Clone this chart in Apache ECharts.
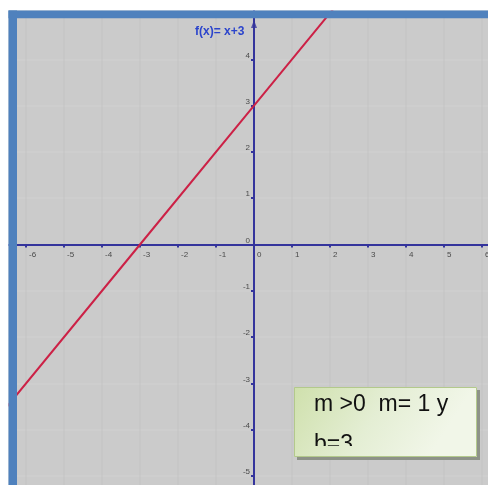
<!DOCTYPE html>
<html>
<head>
<meta charset="utf-8">
<script src="https://cdn.jsdelivr.net/npm/echarts@6/dist/echarts.min.js"></script>
<style>
  html, body { margin: 0; padding: 0; background: #ffffff; }
  #chart { width: 488px; height: 485px; }
</style>
</head>
<body>
<div id="chart"></div>
<script>
// Axis extents (the visible window is cut out of these by the frame)
const xExtent = [-7, 7];
const yExtent = [-6, 6];
// Tick labels that are printed on each axis
const xLabelValues = [-6, -5, -4, -3, -2, -1, 0, 1, 2, 3, 4, 5, 6];
const yLabelValues = [-5, -4, -3, -2, -1, 0, 1, 2, 3, 4];
// f(x) = x + 3  (slope 1, intercept 3)
const lineX = [-7, -3, 0, 7];
const lineY = [-4, 0, 3, 10];
// Arrow head at the top of the vertical axis
const arrowX = [0];
const arrowY = [4.76];
// Texts
const functionLabel = 'f(x)= x+3';
const noteLines = ['m >0  m= 1 y', 'b=3'];

const AXIS_COLOR = '#34349c';
const FRAME_BLUE = '#4f81bd';
const PLOT_GRAY = '#cbcbcb';

// Plot box (extends past the frame on every side)
const GRID = { left: -12, right: -32, top: -33.3, bottom: -37.3 };
const CHART_W = 488, CHART_H = 485;
const gridW = CHART_W - GRID.left - GRID.right;
const gridH = CHART_H - GRID.top - GRID.bottom;
// Shift each axis from the grid edge onto the other axis' zero
const yAxisShift = -gridW * (0 - xExtent[0]) / (xExtent[1] - xExtent[0]);
const xAxisShift = -gridH * (0 - yExtent[0]) / (yExtent[1] - yExtent[0]);

const chart = echarts.init(document.getElementById('chart'), null, { renderer: 'canvas' });

const boxFill = {
  type: 'linear', global: true,
  x: 294, y: 387, x2: 420, y2: 470,
  colorStops: [
    { offset: 0, color: '#cfe0ac' },
    { offset: 0.55, color: '#e4eed4' },
    { offset: 1, color: '#f1f6e8' }
  ]
};

function pickLabel(list) {
  return function (v) {
    const r = Math.round(Number(v));
    return list.indexOf(r) >= 0 ? String(r) : '';
  };
}

chart.setOption({
  animation: false,
  backgroundColor: '#ffffff',
  grid: {
    left: GRID.left, right: GRID.right, top: GRID.top, bottom: GRID.bottom,
    show: true, backgroundColor: PLOT_GRAY, borderWidth: 0,
    containLabel: false, outerBoundsMode: 'none'
  },
  xAxis: {
    type: 'value', min: xExtent[0], max: xExtent[1], interval: 1,
    position: 'bottom', offset: xAxisShift,
    axisLine: { onZero: false, lineStyle: { color: AXIS_COLOR, width: 2 } },
    axisTick: { show: true, length: 3, lineStyle: { color: AXIS_COLOR, width: 2 } },
    axisLabel: {
      show: true, margin: 6, align: 'left', padding: [0, 0, 0, 3],
      fontSize: 8, fontFamily: 'Liberation Sans, Arial, sans-serif', color: '#4a4a4a',
      formatter: pickLabel(xLabelValues)
    },
    splitLine: { show: true, lineStyle: { color: 'rgba(0,0,0,0.02)', width: 2 } }
  },
  yAxis: {
    type: 'value', min: yExtent[0], max: yExtent[1], interval: 1,
    position: 'left', offset: yAxisShift,
    axisLine: { onZero: false, lineStyle: { color: AXIS_COLOR, width: 2 } },
    axisTick: { show: true, length: 3, lineStyle: { color: AXIS_COLOR, width: 2 } },
    axisLabel: {
      show: true, margin: 4, align: 'right', verticalAlign: 'bottom',
      fontSize: 8, fontFamily: 'Liberation Sans, Arial, sans-serif', color: '#4a4a4a',
      formatter: pickLabel(yLabelValues)
    },
    splitLine: { show: true, lineStyle: { color: 'rgba(255,255,255,0.07)', width: 2 } }
  },
  series: [
    {
      type: 'line',
      data: lineX.map((x, i) => [x, lineY[i]]),
      showSymbol: false,
      lineStyle: { color: '#cc2146', width: 2 },
      z: 3
    },
    {
      type: 'scatter',
      data: arrowX.map((x, i) => [x, arrowY[i]]),
      symbol: 'triangle', symbolSize: [6, 8],
      itemStyle: { color: AXIS_COLOR },
      z: 4
    }
  ],
  graphic: [
    // white margin and blue frame
    { type: 'rect', z: 100, shape: { x: 0, y: 0, width: 488, height: 10.5 }, style: { fill: '#ffffff' } },
    { type: 'rect', z: 100, shape: { x: 0, y: 0, width: 8.5, height: 485 }, style: { fill: '#ffffff' } },
    { type: 'rect', z: 101, shape: { x: 8.5, y: 10.5, width: 480, height: 7.8 }, style: { fill: FRAME_BLUE } },
    { type: 'rect', z: 101, shape: { x: 8.5, y: 10.5, width: 8.5, height: 475 }, style: { fill: FRAME_BLUE } },
    // function label
    {
      type: 'text', z: 102, left: 195, top: 26,
      style: {
        text: functionLabel, fill: '#2b44cc',
        font: 'bold 12px "Liberation Sans", Arial, sans-serif'
      }
    },
    // note box: shadow, fill, text, clipped lower strip, outline
    { type: 'rect', z: 110, shape: { x: 297, y: 390, width: 183, height: 70 }, style: { fill: '#8d9288' } },
    { type: 'rect', z: 111, shape: { x: 294, y: 387, width: 183, height: 70 }, style: { fill: boxFill } },
    {
      type: 'text', z: 112, x: 314, y: 405,
      style: {
        text: noteLines[0], fill: '#111111', textVerticalAlign: 'middle',
        font: '23px "Liberation Sans", Arial, sans-serif'
      }
    },
    {
      type: 'text', z: 112, x: 314, y: 445,
      style: {
        text: noteLines[1], fill: '#111111', textVerticalAlign: 'middle',
        font: '23px "Liberation Sans", Arial, sans-serif'
      }
    },
    { type: 'rect', z: 113, shape: { x: 294.5, y: 446, width: 182, height: 10.5 }, style: { fill: boxFill } },
    {
      type: 'rect', z: 114, shape: { x: 294.5, y: 387.5, width: 182, height: 69 },
      style: { fill: 'none', stroke: '#b3c98c', lineWidth: 1 }
    }
  ]
});
</script>
</body>
</html>
